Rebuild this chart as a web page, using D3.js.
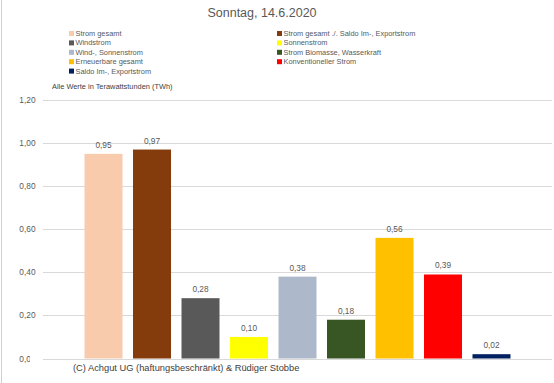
<!DOCTYPE html>
<html><head><meta charset="utf-8">
<script src="https://cdn.jsdelivr.net/npm/d3@7"></script>
<style>body{margin:0;background:#fff}svg{display:block}text{font-family:"Liberation Sans",Arial,sans-serif}</style>
</head><body>
<script>
const series = ["Strom gesamt","Strom gesamt ./. Saldo Im-, Exportstrom","Windstrom","Sonnenstrom","Wind-, Sonnenstrom","Strom Biomasse, Wasserkraft","Erneuerbare gesamt","Konventioneller Strom","Saldo Im-, Exportstrom"];
const values = [0.95,0.97,0.28,0.10,0.38,0.18,0.56,0.39,0.02];
const labels = ["0,95","0,97","0,28","0,10","0,38","0,18","0,56","0,39","0,02"];
const colors = ["#F8CBAD","#843C0C","#595959","#FFFF00","#ADB9CA","#375623","#FFC000","#FF0000","#002060"];
const yTicks = [0,0.2,0.4,0.6,0.8,1.0,1.2];
const yTickLabels = ["0,00","0,20","0,40","0,60","0,80","1,00","1,20"];
const title = "Sonntag, 14.6.2020";
const unitNote = "Alle Werte in Terawattstunden (TWh)";
const footer = "(C) Achgut UG (haftungsbeschränkt) & Rüdiger Stobbe";

const W=554,H=383;
const svg=d3.select("body").append("svg").attr("width",W).attr("height",H);
const x=d3.scaleBand().domain(series).range([43,552]).paddingInner(0.2165).paddingOuter(0.856);
const y=d3.scaleLinear().domain([0,1.2]).range([358.5,100]);

svg.append("line").attr("x1",1.5).attr("x2",1.5).attr("y1",0).attr("y2",H).attr("stroke","#d0d0d0");

svg.append("text").attr("x",262).attr("y",17).attr("text-anchor","middle").attr("font-size",12.5).attr("fill","#595959").text(title);

const lg=svg.append("g");
series.forEach((s,i)=>{
  const col=i%2,row=Math.floor(i/2);
  const lx=col?277:69, ly=33.5+row*9.4;
  lg.append("rect").attr("x",lx).attr("y",ly-2.5).attr("width",5).attr("height",5).attr("fill",colors[i]);
  lg.append("text").attr("x",lx+6.5).attr("y",ly+2.5).attr("font-size",7.4).attr("fill","#595959").text(s);
});

svg.append("text").attr("x",52).attr("y",88.5).attr("font-size",7.4).attr("fill","#404040").text(unitNote);

svg.append("g").selectAll("line").data(yTicks).join("line")
  .attr("x1",43).attr("x2",552).attr("y1",d=>Math.round(y(d))+0.5).attr("y2",d=>Math.round(y(d))+0.5)
  .attr("stroke","#d9d9d9").attr("stroke-width",1);

// y labels; the lowest one is partly covered by the footer box
svg.append("clipPath").attr("id","yc").append("rect").attr("x",0).attr("y",0).attr("width",30).attr("height",H);
svg.append("g").selectAll("text").data(yTicks).join("text")
  .attr("clip-path",d=>d===0?"url(#yc)":null)
  .attr("x",35.5).attr("y",d=>y(d)+3).attr("text-anchor","end").attr("font-size",8.3).attr("fill","#595959")
  .text((d,i)=>yTickLabels[i]);

svg.append("g").selectAll("rect").data(values).join("rect")
  .attr("x",(d,i)=>x(series[i])).attr("width",x.bandwidth())
  .attr("y",d=>y(d)).attr("height",d=>y(0)-y(d)).attr("fill",(d,i)=>colors[i]);

svg.append("g").selectAll("text").data(values).join("text")
  .attr("x",(d,i)=>x(series[i])+x.bandwidth()/2).attr("y",d=>y(d)-6)
  .attr("text-anchor","middle").attr("font-size",8.3).attr("fill","#595959").text((d,i)=>labels[i]);

svg.append("text").attr("x",73).attr("y",371).attr("font-size",9.3).attr("fill","#404040").text(footer);
</script>
</body></html>
